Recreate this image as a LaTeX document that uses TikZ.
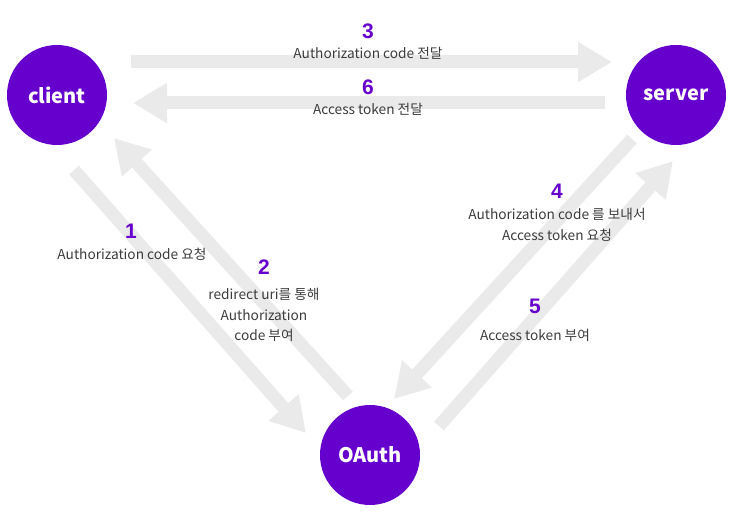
\documentclass[tikz,border=0pt]{standalone}
\usepackage{fontspec}
\setmainfont{Noto Sans CJK KR}
\newfontfamily\numfont{Liberation Sans}
\usetikzlibrary{arrows.meta}
\definecolor{oviolet}{RGB}{102,0,204}
\definecolor{arrowgray}{RGB}{234,234,234}
\definecolor{txtgray}{RGB}{60,60,60}
\tikzset{
  party/.style={circle, fill=oviolet, minimum size=100pt, inner sep=0pt, text=white, font=\fontsize{20}{22}\selectfont\bfseries},
  fatarrow/.style={draw=arrowgray, line width=13pt, line cap=butt, -{Triangle[length=34pt,width=38pt]}},
  stepnum/.style={text=oviolet, font=\numfont\fontsize{21}{22}\selectfont\bfseries, inner sep=0pt},
  steptext/.style={text=txtgray, font=\fontsize{13.7}{20.5}\selectfont, align=center, inner sep=0pt}
}
\begin{document}
\begin{tikzpicture}[x=1pt,y=-1pt]
\useasboundingbox (0,0) rectangle (748,521);
\node[party] (client) at (57,95) {client};
\node[party] (server) at (676,95) {server};
\node[party] (oauth) at (370,455) {OAuth};

\coordinate (a3s) at (131,62); \coordinate (a3e) at (612,62);
\coordinate (a6s) at (605,103); \coordinate (a6e) at (133,103);
\coordinate (a1s) at (74,170); \coordinate (a1e) at (306,433);
\coordinate (a2s) at (348,396); \coordinate (a2e) at (114,138);
\coordinate (a4s) at (632,139); \coordinate (a4e) at (394,399);
\coordinate (a5s) at (439,426); \coordinate (a5e) at (673,161);

\draw[fatarrow] (a3s) -- (a3e);
\draw[fatarrow] (a6s) -- (a6e);
\draw[fatarrow] (a1s) -- (a1e);
\draw[fatarrow] (a2s) -- (a2e);
\draw[fatarrow] (a4s) -- (a4e);
\draw[fatarrow] (a5s) -- (a5e);

\node[stepnum] (n3) at (368,31) {3};
\node[steptext] (t3) at (368,53) {Authorization code 전달};
\node[stepnum] (n6) at (368,87) {6};
\node[steptext] (t6) at (368,109) {Access token 전달};
\node[stepnum] (n1) at (131,231) {1};
\node[steptext] (t1) at (132,254) {Authorization code 요청};
\node[stepnum] (n2) at (264,267) {2};
\node[steptext, anchor=north] (t2) at (264,288) {redirect uri를 통해\\Authorization\\code 부여};
\node[stepnum] (n4) at (557,191) {4};
\node[steptext, anchor=north] (t4) at (557,208) {Authorization code 를 보내서\\Access token 요청};
\node[stepnum] (n5) at (535,306) {5};
\node[steptext] (t5) at (535,335) {Access token 부여};
\end{tikzpicture}
\end{document}
